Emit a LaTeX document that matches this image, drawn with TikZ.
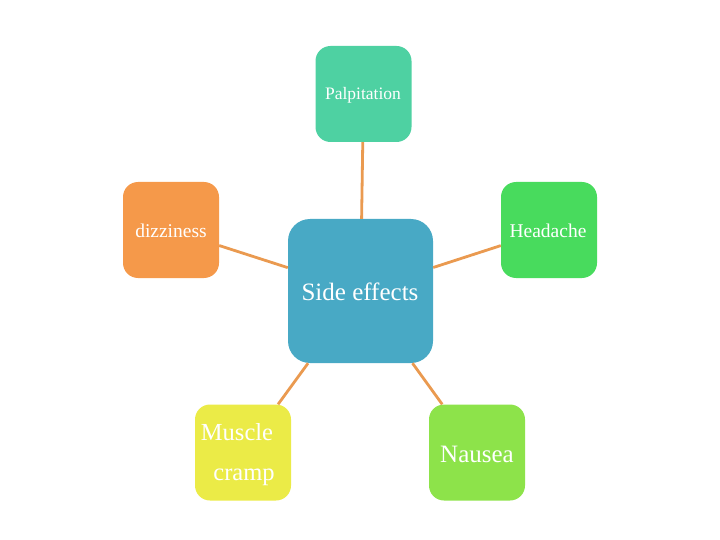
\documentclass[tikz,border=0pt]{standalone}
\usepackage{fontspec}
\setmainfont{Liberation Serif}
\definecolor{cPalp}{HTML}{4ED1A2}
\definecolor{cDizz}{HTML}{F5994A}
\definecolor{cHead}{HTML}{48DB5D}
\definecolor{cSide}{HTML}{48A9C5}
\definecolor{cMusc}{HTML}{EBEB47}
\definecolor{cNaus}{HTML}{8DE34A}
\definecolor{cLine}{HTML}{EA9A50}
\tikzset{
  box/.style={rectangle, rounded corners=15pt, minimum width=96pt, minimum height=96pt, inner sep=0pt},
  bigbox/.style={rectangle, rounded corners=22pt, minimum width=145pt, minimum height=144pt, inner sep=0pt},
  lbl/.style={text=white, inner sep=0pt},
  link/.style={draw=cLine, line width=2.8pt}
}
\begin{document}
\begin{tikzpicture}[x=1pt,y=-1pt]
\useasboundingbox (0,0) rectangle (720,540);
\node[bigbox, fill=cSide] (side) at (360.5,291) {};
\node[box, fill=cPalp] (palp) at (363.5,94) {};
\node[box, fill=cDizz] (dizz) at (171,230) {};
\node[box, fill=cHead] (head) at (549,230) {};
\node[box, fill=cMusc] (musc) at (243,452.5) {};
\node[box, fill=cNaus] (naus) at (477,452.5) {};
\draw[link] (palp) -- (side);
\draw[link] (dizz) -- (side);
\draw[link] (head) -- (side);
\draw[link] (musc) -- (side);
\draw[link] (naus) -- (side);
\node[lbl, font=\fontsize{17.5}{20}\selectfont] (tpalp) at (363,95) {Palpitation};
\node[lbl, font=\fontsize{19.5}{22}\selectfont] (tdizz) at (171,231) {dizziness};
\node[lbl, font=\fontsize{19.5}{22}\selectfont] (thead) at (548,231) {Headache};
\node[lbl, font=\fontsize{25}{28}\selectfont] (tside) at (360,292) {Side effects};
\node[lbl, font=\fontsize{24.5}{28}\selectfont] (tmusc1) at (237,432) {Muscle};
\node[lbl, font=\fontsize{24.5}{28}\selectfont] (tmusc2) at (244,477) {cramp};
\node[lbl, font=\fontsize{25}{28}\selectfont] (tnaus) at (477,454) {Nausea};
\end{tikzpicture}
\end{document}
